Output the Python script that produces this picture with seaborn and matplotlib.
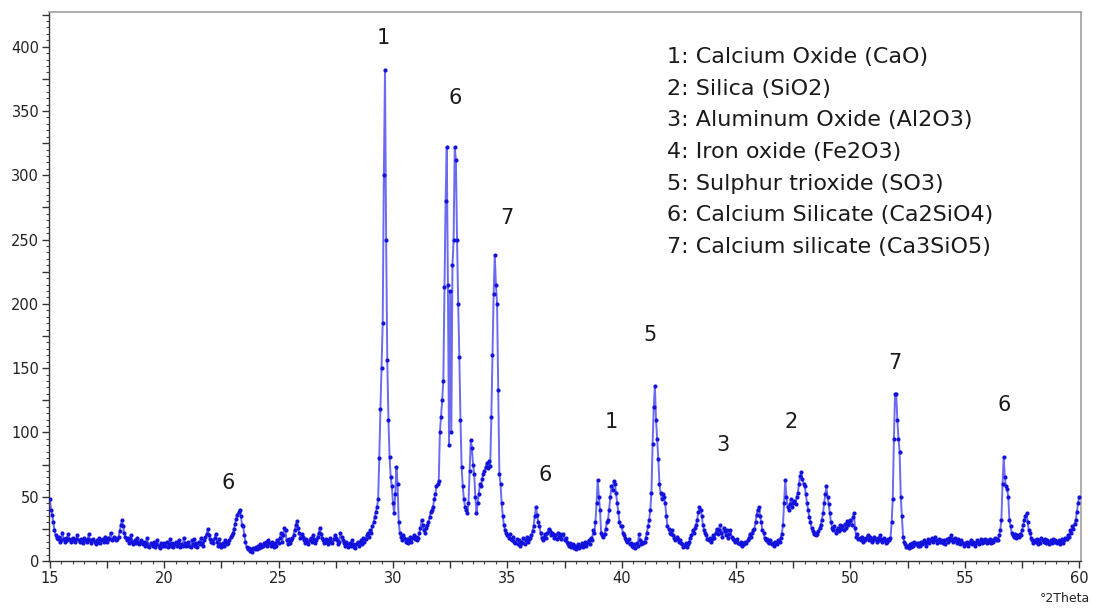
import numpy as np
import pandas as pd
import matplotlib
matplotlib.use("Agg")
import matplotlib.pyplot as plt
import seaborn as sns
from matplotlib.ticker import MultipleLocator, FuncFormatter

# scan grid: 15 - 60 deg 2theta, 0.05 deg step (one row below = one degree)
start_2theta = 15.0
step_2theta = 0.05

intensity_rows = [
    [48, 40, 36, 30, 24, 20, 18, 17, 19, 15, 16, 22, 17, 15, 18, 16, 21, 17, 15, 17],   # 15
    [18, 16, 15, 17, 20, 16, 15, 17, 16, 14, 18, 16, 15, 17, 21, 16, 14, 16, 17, 15],   # 16
    [13, 16, 15, 18, 14, 16, 17, 15, 19, 16, 15, 18, 17, 22, 16, 17, 19, 18, 16, 17],   # 17
    [19, 23, 28, 32, 27, 22, 19, 16, 18, 14, 17, 20, 15, 13, 16, 14, 18, 15, 13, 14],   # 18
    [16, 13, 15, 12, 14, 18, 12, 11, 14, 13, 12, 15, 11, 13, 16, 12, 10, 14, 13, 12],   # 19
    [14, 12, 15, 11, 13, 17, 12, 14, 11, 13, 15, 12, 14, 16, 11, 13, 12, 18, 14, 12],   # 20
    [13, 15, 12, 11, 16, 13, 17, 12, 14, 11, 15, 13, 18, 14, 12, 16, 19, 21, 25, 20],   # 21
    [17, 15, 16, 14, 18, 21, 15, 12, 17, 13, 11, 14, 12, 16, 15, 13, 14, 16, 19, 20],   # 22
    [22, 25, 29, 33, 36, 38, 40, 35, 28, 27, 20, 15, 11, 9, 10, 8, 9, 7, 10, 9],        # 23
    [11, 9, 12, 10, 13, 11, 12, 14, 13, 15, 12, 16, 14, 12, 15, 13, 11, 14, 12, 16],    # 24
    [14, 18, 22, 15, 20, 26, 24, 16, 13, 17, 14, 16, 18, 20, 24, 28, 31, 26, 22, 18],   # 25
    [21, 19, 16, 14, 17, 15, 13, 16, 18, 15, 20, 17, 14, 16, 19, 22, 26, 21, 18, 16],   # 26
    [14, 17, 15, 13, 16, 18, 15, 14, 17, 20, 18, 16, 13, 15, 22, 19, 16, 14, 12, 15],   # 27
    [13, 11, 14, 12, 16, 13, 11, 10, 13, 15, 12, 14, 16, 13, 18, 15, 17, 20, 22, 19],   # 28
    [24, 22, 27, 30, 34, 38, 42, 48, 80, 118, 150, 185, 300, 382, 250, 156, 110, 81, 65, 58],  # 29
    [45, 37, 52, 73, 60, 30, 22, 19, 16, 20, 18, 15, 17, 14, 16, 19, 15, 18, 20, 17],   # 30
    [19, 16, 18, 22, 26, 32, 28, 24, 22, 26, 28, 30, 34, 38, 40, 42, 48, 52, 58, 60],   # 31
    [62, 100, 112, 125, 140, 213, 280, 322, 215, 90, 210, 100, 230, 250, 322, 312, 250, 200, 159, 110],  # 32
    [73, 58, 48, 42, 40, 37, 45, 70, 94, 88, 75, 68, 50, 37, 45, 52, 60, 58, 64, 68],   # 33
    [70, 73, 76, 72, 78, 74, 112, 160, 208, 238, 215, 200, 133, 68, 60, 45, 35, 28, 24, 22],  # 34
    [20, 18, 21, 17, 16, 19, 15, 14, 17, 13, 16, 12, 15, 14, 18, 13, 16, 19, 15, 17],   # 35
    [18, 20, 23, 27, 35, 42, 36, 30, 27, 22, 18, 16, 19, 21, 18, 22, 25, 23, 20, 22],   # 36
    [21, 18, 20, 17, 22, 19, 21, 17, 20, 21, 16, 18, 15, 13, 12, 14, 11, 13, 10, 12],   # 37
    [9, 11, 13, 10, 12, 14, 11, 13, 15, 12, 14, 16, 13, 18, 16, 24, 22, 30, 45, 63],    # 38
    [50, 40, 22, 20, 19, 21, 25, 30, 32, 40, 50, 58, 55, 62, 60, 53, 45, 38, 30, 27],   # 39
    [27, 22, 20, 18, 16, 15, 17, 13, 14, 12, 11, 13, 10, 14, 12, 21, 16, 13, 15, 14],   # 40
    [15, 18, 22, 27, 32, 40, 53, 91, 120, 136, 110, 95, 79, 60, 53, 48, 52, 50, 45, 35],  # 41
    [27, 25, 22, 21, 24, 20, 18, 16, 19, 17, 15, 16, 14, 13, 11, 12, 14, 11, 13, 15],   # 42
    [18, 20, 24, 22, 26, 28, 32, 38, 42, 40, 35, 28, 24, 22, 20, 17, 16, 18, 15, 17],   # 43
    [20, 18, 22, 25, 21, 24, 28, 22, 19, 26, 23, 20, 24, 18, 21, 24, 19, 17, 16, 15],   # 44
    [16, 17, 14, 13, 15, 12, 14, 13, 15, 14, 16, 18, 21, 19, 22, 24, 25, 30, 36, 40],   # 45
    [42, 35, 30, 24, 22, 18, 16, 17, 15, 14, 16, 13, 14, 12, 15, 14, 13, 16, 15, 18],   # 46
    [21, 28, 45, 63, 50, 42, 40, 44, 48, 42, 45, 47, 44, 50, 53, 60, 66, 69, 64, 60],   # 47
    [58, 52, 45, 40, 34, 30, 26, 23, 21, 22, 20, 21, 23, 26, 28, 32, 37, 45, 52, 58],   # 48
    [50, 44, 37, 30, 26, 24, 27, 22, 24, 26, 23, 28, 25, 27, 24, 29, 26, 31, 28, 30],   # 49
    [32, 28, 34, 37, 26, 19, 21, 17, 18, 16, 19, 15, 17, 16, 18, 20, 16, 19, 17, 15],   # 50
    [16, 19, 17, 15, 18, 16, 20, 17, 15, 18, 16, 14, 15, 17, 16, 18, 30, 48, 95, 130],  # 51
    [130, 110, 95, 85, 50, 35, 19, 15, 13, 11, 12, 10, 13, 11, 14, 12, 15, 13, 14, 12],  # 52
    [14, 12, 15, 13, 16, 14, 12, 15, 17, 14, 16, 18, 15, 17, 19, 16, 14, 17, 15, 16],   # 53
    [15, 14, 16, 13, 17, 15, 18, 16, 20, 17, 15, 18, 16, 14, 17, 15, 13, 16, 14, 12],   # 54
    [14, 13, 15, 12, 14, 16, 13, 15, 14, 12, 14, 16, 13, 15, 17, 14, 16, 15, 17, 14],   # 55
    [16, 15, 17, 14, 16, 15, 18, 16, 17, 16, 20, 24, 32, 60, 81, 65, 58, 56, 50, 32],   # 56
    [27, 22, 20, 19, 21, 18, 20, 19, 21, 20, 24, 28, 32, 35, 37, 30, 24, 22, 18, 16],   # 57
    [14, 16, 15, 17, 13, 16, 14, 18, 16, 15, 17, 14, 16, 15, 13, 16, 14, 17, 15, 16],   # 58
    [15, 14, 16, 13, 15, 17, 14, 16, 18, 17, 20, 19, 24, 22, 27, 25, 29, 32, 38, 45],   # 59
    [50],                                                                               # 60
]

# phase markers above the peaks: (2theta, height, label)
marker_2theta = [29.56, 32.71, 34.98, 22.78, 36.64, 39.53, 41.24, 44.43, 47.40, 51.95, 56.71]
marker_height = [407, 360, 267, 61, 67, 108, 176, 90, 108, 154, 121]
marker_label = ["1", "6", "7", "6", "6", "1", "5", "3", "2", "7", "6"]

phase_names = [
    "1: Calcium Oxide (CaO)",
    "2: Silica (SiO2)",
    "3: Aluminum Oxide (Al2O3)",
    "4: Iron oxide (Fe2O3)",
    "5: Sulphur trioxide (SO3)",
    "6: Calcium Silicate (Ca2SiO4)",
    "7: Calcium silicate (Ca3SiO5)",
]

intensity = np.array([v for row in intensity_rows for v in row], dtype=float)
two_theta = np.round(start_2theta + step_2theta * np.arange(len(intensity)), 2)
df = pd.DataFrame({"two_theta": two_theta, "counts": intensity})

sns.set_style("white")
plt.rcParams["font.family"] = ["DejaVu Sans"]

fig = plt.figure(figsize=(10.94, 6.08), dpi=100)
ax = fig.add_axes([49 / 1094, 47 / 608, 1032 / 1094, 549 / 608])

sns.lineplot(data=df, x="two_theta", y="counts", ax=ax, color="#6b6bf0",
             linewidth=1.4, estimator=None, sort=False)
sns.scatterplot(data=df, x="two_theta", y="counts", ax=ax, color="#1212dc",
                s=9, linewidth=0, zorder=3)

for xm, ym, lab in zip(marker_2theta, marker_height, marker_label):
    ax.text(xm, ym, lab, fontsize=15, ha="center", va="center", color="#1a1a1a")

for i, name in enumerate(phase_names):
    ax.text(42.0, 392 - i * 24.6, name, fontsize=16, ha="left", va="center",
            color="#1a1a1a")

ax.set_xlim(14.96, 60.08)
ax.set_ylim(0, 427)

ax.xaxis.set_major_locator(MultipleLocator(2.5))
ax.xaxis.set_minor_locator(MultipleLocator(0.5))
ax.yaxis.set_major_locator(MultipleLocator(25))
ax.yaxis.set_minor_locator(MultipleLocator(5))
ax.xaxis.set_major_formatter(FuncFormatter(lambda v, p: f"{v:.0f}" if abs(v % 5) < 1e-6 else ""))
ax.yaxis.set_major_formatter(FuncFormatter(lambda v, p: f"{v:.0f}" if abs(v % 50) < 1e-6 else ""))
ax.tick_params(which="major", direction="out", length=5, width=1, color="#333333",
               labelsize=10.5, labelcolor="#222222", pad=2)
ax.tick_params(which="minor", direction="out", length=2.5, width=0.8, color="#444444")
ax.tick_params(axis="both", which="both", bottom=True, left=True, top=False, right=False)

for side in ["left", "bottom"]:
    ax.spines[side].set_color("#333333")
    ax.spines[side].set_linewidth(1.0)
for side in ["top", "right"]:
    ax.spines[side].set_color("#a0a0a0")
    ax.spines[side].set_linewidth(1.2)

ax.set_xlabel("")
ax.set_ylabel("")
fig.text(1090 / 1094, 1 - 598 / 608, "°2Theta", fontsize=9, ha="right", va="center",
         color="#222222")

fig.savefig("out.png", dpi=100)
